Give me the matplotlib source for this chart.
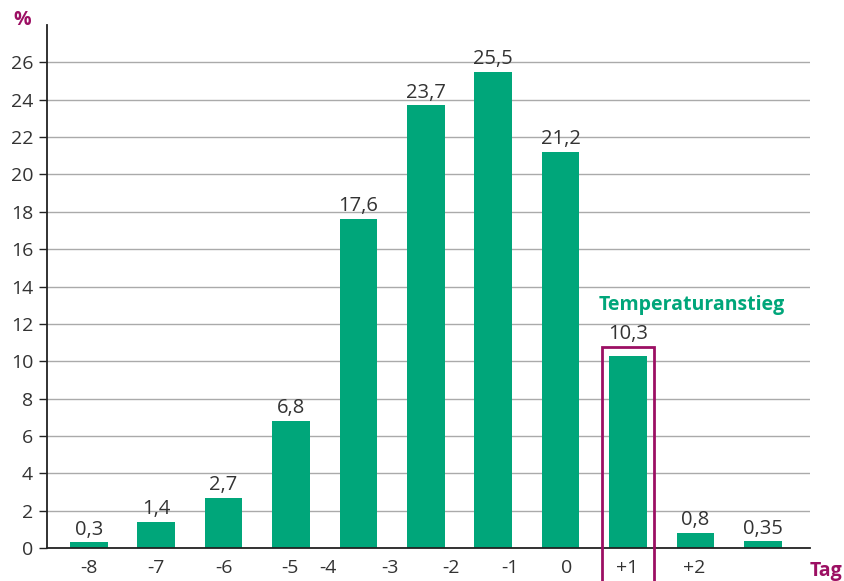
import matplotlib.pyplot as plt
from matplotlib.patches import Rectangle

plt.rcParams['font.family'] = ['Open Sans', 'DejaVu Sans']

# share of cycles (percent) per bar, and the day labels under the axis
werte = [0.3, 1.4, 2.7, 6.8, 17.6, 23.7, 25.5, 21.2, 10.3, 0.8, 0.35]
tick_labels = ['-8', '-7', '-6', '-5', '-4', '-3', '-2', '-1', '0', '+1', '+2']
tick_pos = [0, 0.99, 2.0, 2.98, 3.55, 4.47, 5.37, 6.25, 7.09, 7.98, 8.98]
y_ticks = list(range(0, 27, 2))
markiert = 8  # bar of the temperature rise day (+1)

gruen = '#00a67a'
lila = '#9c0f63'
text_farbe = '#333333'

fig = plt.figure(figsize=(8.44, 5.81), dpi=100)
ax = fig.add_axes([47 / 844, 33 / 581, (810 - 47) / 844, (548 - 25) / 581])

x = list(range(len(werte)))
ax.bar(x, werte, width=0.56, color=gruen, zorder=3)

box_top = werte[markiert] + 0.45
for xi, v in zip(x, werte):
    y_anker = box_top if xi == markiert else v
    ax.annotate(str(v).replace('.', ','), (xi, y_anker), xytext=(0, 2),
                textcoords='offset points', ha='center', va='bottom',
                fontsize=14.5, color=text_farbe)

ax.set_xlim(-0.62, 10.70)
ax.set_ylim(0, 28)
ax.set_yticks(y_ticks)
ax.set_yticklabels([str(t) for t in y_ticks])
ax.set_xticks(tick_pos)
ax.set_xticklabels(tick_labels)
ax.tick_params(axis='y', length=6, width=1, color='#222222', labelsize=14,
               labelcolor=text_farbe, pad=4)
ax.tick_params(axis='x', length=0, labelsize=14, labelcolor=text_farbe, pad=8)

ax.yaxis.grid(True, color='#aaaaaa', linewidth=1)
ax.set_axisbelow(True)
for side in ['top', 'right']:
    ax.spines[side].set_visible(False)
for side in ['left', 'bottom']:
    ax.spines[side].set_color('#222222')
    ax.spines[side].set_linewidth(1.3)
ax.spines['bottom'].set_zorder(4)

# frame around the bar of the temperature rise, running below the axis
box = Rectangle((markiert - 0.38, -2.0), 0.76, box_top + 2.0,
                fill=False, edgecolor=lila, linewidth=2, clip_on=False, zorder=5)
ax.add_patch(box)

ax.text(8.95, 13.0, 'Temperaturanstieg', color=gruen, fontsize=14,
        fontweight='bold', ha='center', va='center')

fig.text(22 / 844, 1 - 20 / 581, '%', color=lila, fontsize=14,
         fontweight='bold', ha='center', va='center')
fig.text(826 / 844, 1 - 571 / 581, 'Tag', color=lila, fontsize=14,
         fontweight='bold', ha='center', va='center')

fig.savefig('out.png', dpi=100)
